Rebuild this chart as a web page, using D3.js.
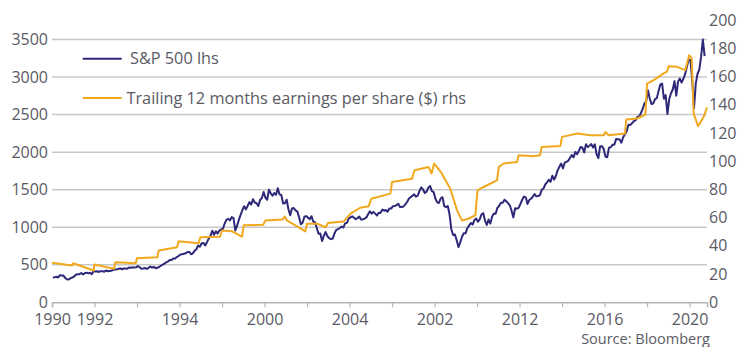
<!DOCTYPE html>
<html>
<head>
<meta charset="utf-8">
<script src="https://cdnjs.cloudflare.com/ajax/libs/d3/7.8.5/d3.min.js"></script>
<style>
  body { margin: 0; background: #fff; }
  svg text { font-family: "Open Sans", sans-serif; fill: #5a5a64; }
</style>
</head>
<body>
<div id="chart"></div>
<script>
// S&P 500 monthly closes, Jan 1990 .. Sep 2020
const spxStartYear = 1990;
const spx = [
  329, 332, 340, 331, 361, 358, 356, 323, 306, 304, 322, 330,     // 1990
  344, 367, 375, 375, 390, 371, 388, 395, 388, 392, 375, 417,     // 1991
  409, 413, 404, 415, 415, 408, 424, 414, 418, 419, 431, 436,     // 1992
  439, 443, 452, 440, 450, 451, 448, 464, 459, 468, 462, 466,     // 1993
  482, 467, 446, 451, 457, 444, 458, 475, 463, 472, 454, 459,     // 1994
  470, 487, 501, 515, 533, 545, 562, 562, 584, 582, 605, 616,     // 1995
  636, 640, 646, 654, 669, 671, 640, 652, 687, 705, 757, 741,     // 1996
  786, 791, 757, 801, 848, 885, 954, 899, 947, 915, 955, 970,     // 1997
  980, 1049, 1102, 1112, 1091, 1134, 1121, 957, 1017, 1099, 1164, 1229,   // 1998
  1280, 1238, 1286, 1335, 1302, 1373, 1329, 1320, 1283, 1363, 1389, 1469, // 1999
  1394, 1366, 1499, 1452, 1421, 1455, 1431, 1518, 1437, 1429, 1315, 1320, // 2000
  1366, 1240, 1160, 1249, 1256, 1224, 1211, 1134, 1041, 1060, 1139, 1148, // 2001
  1130, 1107, 1147, 1076, 1067, 990, 912, 916, 815, 886, 936, 880,        // 2002
  856, 841, 848, 917, 964, 975, 990, 1008, 996, 1051, 1058, 1112,         // 2003
  1131, 1145, 1126, 1107, 1121, 1141, 1102, 1104, 1115, 1130, 1174, 1212, // 2004
  1181, 1204, 1181, 1157, 1192, 1191, 1234, 1220, 1229, 1207, 1249, 1248, // 2005
  1280, 1281, 1295, 1311, 1270, 1270, 1277, 1304, 1336, 1378, 1401, 1418, // 2006
  1438, 1407, 1421, 1482, 1531, 1503, 1455, 1474, 1527, 1549, 1481, 1468, // 2007
  1379, 1331, 1323, 1386, 1400, 1280, 1267, 1283, 1166, 969, 896, 903,    // 2008
  826, 735, 798, 873, 919, 919, 987, 1021, 1057, 1036, 1096, 1115,        // 2009
  1074, 1104, 1169, 1187, 1089, 1031, 1102, 1049, 1141, 1183, 1181, 1258, // 2010
  1286, 1327, 1326, 1364, 1345, 1321, 1292, 1219, 1131, 1253, 1247, 1258, // 2011
  1312, 1366, 1408, 1398, 1310, 1362, 1379, 1407, 1441, 1412, 1416, 1426, // 2012
  1498, 1515, 1569, 1598, 1631, 1606, 1686, 1633, 1682, 1757, 1806, 1848, // 2013
  1783, 1859, 1872, 1884, 1924, 1960, 1931, 2003, 1972, 2018, 2068, 2059, // 2014
  1995, 2105, 2068, 2086, 2107, 2063, 2104, 1972, 1920, 2079, 2080, 2044, // 2015
  1940, 1932, 2060, 2065, 2097, 2099, 2174, 2171, 2168, 2126, 2199, 2239, // 2016
  2279, 2364, 2363, 2384, 2412, 2423, 2470, 2472, 2519, 2575, 2648, 2674, // 2017
  2824, 2714, 2641, 2648, 2705, 2718, 2816, 2902, 2914, 2712, 2760, 2507, // 2018
  2704, 2784, 2834, 2946, 2752, 2942, 2980, 2926, 2977, 3038, 3141, 3231, // 2019
  3226, 2954, 2585, 2912, 3044, 3100, 3271, 3500, 3280                    // 2020
];

// trailing 12m EPS, [decimal year, $]
const eps = [
  [1990.00, 28.0], [1990.94, 26.1], [1991.00, 27.7], [1991.96, 22.5],
  [1992.00, 26.8], [1992.92, 23.7], [1992.98, 28.4], [1993.94, 27.7],
  [1994.00, 31.2], [1994.96, 31.9], [1995.02, 36.7], [1995.88, 39.0],
  [1995.96, 43.3], [1996.90, 41.9], [1996.98, 46.1], [1997.90, 46.4],
  [1998.00, 50.9], [1998.45, 50.4], [1998.94, 46.6], [1999.02, 54.5],
  [1999.94, 55.0], [2000.04, 58.0], [2000.85, 58.7], [2000.95, 60.8],
  [2001.05, 58.0], [2001.45, 54.5], [2001.92, 50.2], [2002.00, 55.7],
  [2002.47, 55.7], [2002.88, 53.2], [2002.98, 56.1], [2003.73, 57.3],
  [2004.05, 62.8], [2004.50, 67.0], [2004.90, 68.0], [2005.02, 73.4],
  [2005.92, 77.0], [2006.00, 85.2], [2006.94, 87.6], [2007.06, 93.5],
  [2007.72, 95.8], [2007.86, 91.2], [2007.98, 98.3], [2008.30, 92.3],
  [2008.74, 80.5], [2009.06, 65.1], [2009.29, 58.0], [2009.55, 59.0],
  [2009.92, 61.6], [2010.02, 79.3], [2010.31, 81.7], [2010.94, 86.4],
  [2011.02, 95.8], [2011.25, 98.3], [2011.88, 99.4], [2011.96, 104.2],
  [2012.66, 103.4], [2012.96, 104.2], [2013.04, 110.0], [2013.92, 110.8],
  [2014.00, 117.2], [2014.71, 119.6], [2015.34, 118.4], [2015.96, 118.4],
  [2016.04, 120.7], [2016.19, 118.4], [2016.96, 119.6], [2017.02, 129.5],
  [2017.53, 130.2], [2017.92, 133.0], [2018.00, 155.0], [2018.31, 157.4],
  [2018.78, 162.2], [2018.94, 163.5], [2019.02, 167.3], [2019.41, 166.8],
  [2019.80, 164.5], [2019.98, 175.0], [2020.10, 172.8], [2020.19, 133.8],
  [2020.40, 124.7], [2020.66, 131.3], [2020.82, 138.0]
];

// x axis: a tick every two years, only some labelled (labels as printed)
const xTicks = d3.range(1990, 2021, 2);
const xTickLabels = { 1990: "1990", 1992: "1992", 1996: "1994", 2000: "2000",
  2004: "2004", 2008: "2002", 2012: "2012", 2016: "2016", 2020: "2020" };
const leftTicks = [0, 500, 1000, 1500, 2000, 2500, 3000, 3500];
const rightTicks = [0, 20, 40, 60, 80, 100, 120, 140, 160, 180, 200];
const legendLabels = ["S&P 500 lhs", "Trailing 12 months earnings per share ($) rhs"];

const width = 750, height = 347;
const navy = "#2e2878", orange = "#f0a81e", grid = "#c8c8c8";
const axisY = 302.3;

const svg = d3.select("#chart").append("svg")
    .attr("width", width)
    .attr("height", height);

const x = d3.scaleLinear().domain([1990, 2020.82]).range([52, 707]);
const yL = d3.scaleLinear().domain([0, 3760]).range([axisY, 20]);
const yR = d3.scaleLinear().domain([0, 200]).range([axisY, 20]);

// gridlines + left labels
svg.append("g")
    .selectAll("line")
    .data(leftTicks.filter(d => d > 0))
    .join("line")
    .attr("x1", 52).attr("x2", 707)
    .attr("y1", d => yL(d)).attr("y2", d => yL(d))
    .attr("stroke", grid).attr("stroke-width", 1.5);

svg.append("g")
    .selectAll("text")
    .data(leftTicks)
    .join("text")
    .attr("x", 48).attr("y", d => yL(d))
    .attr("dy", "0.35em")
    .attr("text-anchor", "end")
    .style("font-size", "16px")
    .text(d => d);

svg.append("g")
    .selectAll("text")
    .data(rightTicks)
    .join("text")
    .attr("x", 709).attr("y", d => yR(d))
    .attr("dy", "0.35em")
    .style("font-size", "16px")
    .text(d => d);

// bottom axis
const xAxis = svg.append("g")
    .attr("transform", `translate(0,${axisY})`)
    .call(d3.axisBottom(x).tickValues(xTicks).tickSize(5).tickSizeOuter(5)
        .tickFormat(d => xTickLabels[d] || ""));
xAxis.select(".domain").attr("stroke", "#b5b5b5").attr("stroke-width", 1.5);
xAxis.selectAll(".tick line").attr("stroke", "#b5b5b5").attr("stroke-width", 1.2);
xAxis.selectAll(".tick text")
    .attr("y", 23)
    .attr("dy", null)
    .style("font-size", "16px")
    .style("font-family", "'Open Sans', sans-serif")
    .attr("fill", "#5a5a64");

// lines
const spxLine = d3.line()
    .x((d, i) => x(spxStartYear + (i + 0.5) / 12))
    .y(d => yL(d));

const epsLine = d3.line()
    .x(d => x(d[0]))
    .y(d => yR(d[1]));

svg.append("path")
    .datum(spx)
    .attr("fill", "none")
    .attr("stroke", navy)
    .attr("stroke-width", 2)
    .attr("stroke-linejoin", "round")
    .attr("d", spxLine);

svg.append("path")
    .datum(eps)
    .attr("fill", "none")
    .attr("stroke", orange)
    .attr("stroke-width", 2)
    .attr("stroke-linejoin", "round")
    .attr("d", epsLine);

// legend
const legend = svg.append("g");
[[navy, 58.7, 130], [orange, 98, 126.5]].forEach((l, i) => {
  legend.append("line")
      .attr("x1", 82.7).attr("x2", 121.7)
      .attr("y1", l[1]).attr("y2", l[1])
      .attr("stroke", l[0]).attr("stroke-width", 2);
  legend.append("text")
      .attr("x", l[2]).attr("y", l[1])
      .attr("dy", "0.35em")
      .style("font-size", "16.3px")
      .text(legendLabels[i]);
});

svg.append("text")
    .attr("x", 710).attr("y", 344)
    .attr("text-anchor", "end")
    .style("font-size", "14.5px")
    .text("Source: Bloomberg");
</script>
</body>
</html>
